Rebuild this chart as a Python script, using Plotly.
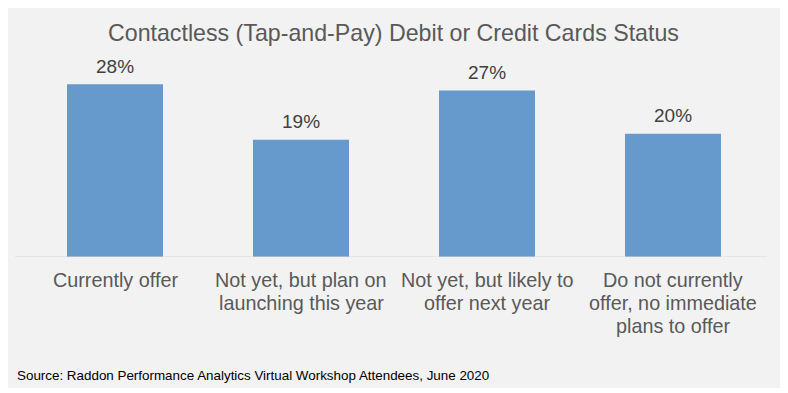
import plotly.graph_objects as go

categories = ["Currently offer",
              "Not yet, but plan on<br>launching this year",
              "Not yet, but likely to<br>offer next year",
              "Do not currently<br>offer, no immediate<br>plans to offer"]
values = [28, 19, 27, 20]
value_labels = ["28%", "19%", "27%", "20%"]
title_text = "Contactless (Tap-and-Pay) Debit or Credit Cards Status"
source_text = "Source: Raddon Performance Analytics Virtual Workshop Attendees, June 2020"

OFF = 8  # page body margin
W, H = 788 - OFF, 393 - OFF
# plot area in page pixels: x 22..766, y 72..257
L, R, T, B = 22 - OFF, 788 - 766, 72 - OFF, 393 - 257
pw, ph = W - L - R, H - T - B
FONT = "Liberation Sans, Arial, sans-serif"

def px_to_paper_x(px):
    # px is page coordinate
    return (px - OFF - L) / pw

def px_to_paper_y(py):
    return (H - B - (py - OFF)) / ph

x_idx = list(range(len(categories)))

fig = go.Figure(go.Bar(
    x=x_idx, y=values,
    marker=dict(color="#6699cc", line=dict(width=0)),
    hoverinfo="skip",
))

annotations = []
annotations.append(dict(text=title_text, xref="paper", yref="paper",
                        x=px_to_paper_x(393), y=px_to_paper_y(33),
                        xanchor="center", yanchor="middle", showarrow=False,
                        font=dict(family=FONT, size=23.2, color="#595959")))
annotations.append(dict(text=source_text, xref="paper", yref="paper",
                        x=px_to_paper_x(15), y=px_to_paper_y(375),
                        xanchor="left", yanchor="middle", showarrow=False,
                        font=dict(family=FONT, size=13.4, color="#000000")))
for i, (v, lab) in enumerate(zip(values, value_labels)):
    annotations.append(dict(text=lab, x=i, y=v, xref="x", yref="y",
                            xanchor="center", yanchor="middle", yshift=18,
                            showarrow=False,
                            font=dict(family=FONT, size=19, color="#404040")))
for i, cat in enumerate(categories):
    for j, line in enumerate(cat.split("<br>")):
        annotations.append(dict(text=line, x=i, xref="x", yref="paper",
                                y=px_to_paper_y(280 + 23 * j),
                                xanchor="center", yanchor="middle",
                                showarrow=False,
                                font=dict(family=FONT, size=19.8, color="#595959")))

shapes = [dict(type="rect", xref="paper", yref="paper", layer="below",
               x0=px_to_paper_x(4), x1=px_to_paper_x(784),
               y0=px_to_paper_y(388), y1=px_to_paper_y(7),
               fillcolor="#f2f2f2", line=dict(width=0)),
          dict(type="line", xref="paper", yref="y", layer="above",
               x0=px_to_paper_x(15), x1=px_to_paper_x(767), y0=0, y1=0,
               line=dict(color="#d9d9d9", width=1))]

fig.update_layout(
    width=W, height=H,
    margin=dict(l=L, r=R, t=T, b=B, pad=0),
    paper_bgcolor="white", plot_bgcolor="rgba(0,0,0,0)",
    bargap=0.484, showlegend=False,
    xaxis=dict(range=[-0.5, 3.5], showticklabels=False, showgrid=False,
               zeroline=False, showline=False, fixedrange=True),
    yaxis=dict(range=[0, 30], showticklabels=False, showgrid=False,
               zeroline=False, showline=False, fixedrange=True),
    annotations=annotations, shapes=shapes,
    font=dict(family=FONT),
)

fig.write_html("out.html", config={"displayModeBar": False})
